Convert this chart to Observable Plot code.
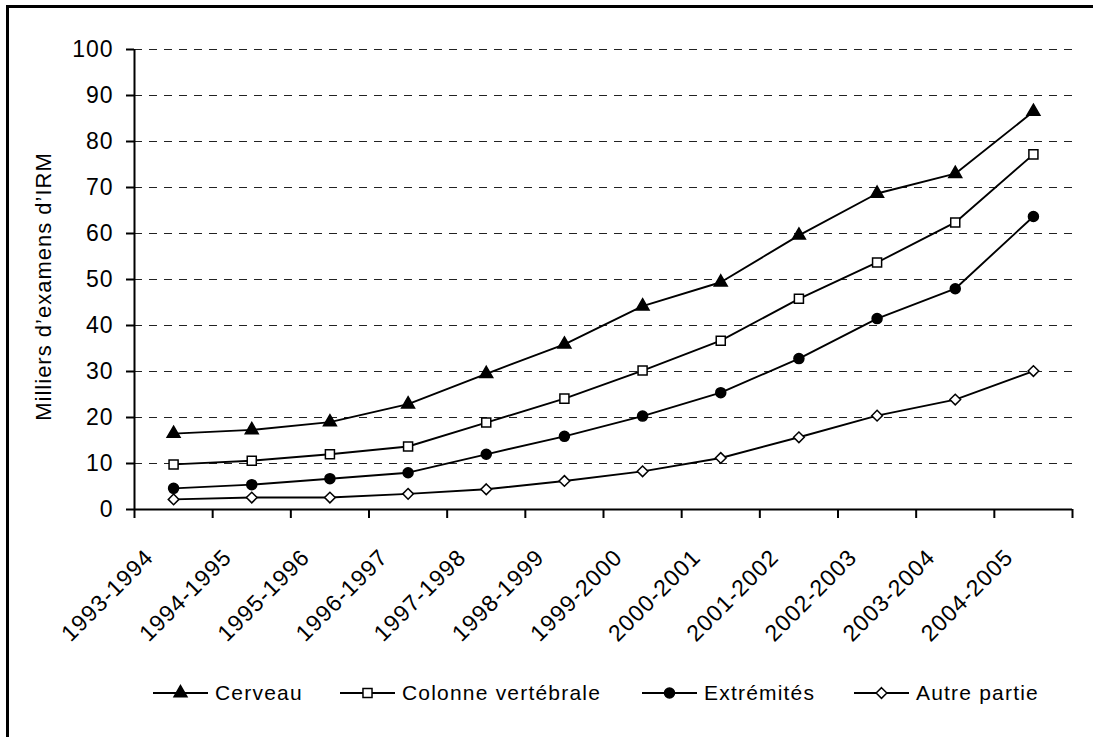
<!DOCTYPE html>
<html>
<head>
<meta charset="utf-8">
<script src="https://cdn.jsdelivr.net/npm/d3@7"></script>
<script src="https://cdn.jsdelivr.net/npm/@observablehq/plot@0.6"></script>
<style>
  html, body { margin: 0; padding: 0; background: #fff; }
  #wrap { position: relative; width: 1093px; height: 737px; overflow: hidden;
          font-family: "Liberation Sans", Arial, sans-serif; }
  #chart { position: absolute; left: 0; top: 0; }
  #chart svg text { letter-spacing: 1px; }
  #frame { position: absolute; left: 6px; top: 5px; width: 1200px; height: 800px;
           border-left: 3px solid #000; border-top: 3px solid #000; pointer-events: none; }
  .legend-item { position: absolute; top: 680px; height: 26px; display: flex; align-items: center;
                 font-size: 21px; letter-spacing: 1.2px; color: #000; white-space: nowrap; }
  .legend-item svg { display: block; margin-right: 7px; }
</style>
</head>
<body>
<div id="wrap">
  <div id="chart"></div>
  <div id="legend"></div>
  <div id="frame"></div>
</div>
<script>
// Périodes (années fiscales)
const categories = ["1993-1994", "1994-1995", "1995-1996", "1996-1997", "1997-1998", "1998-1999",
                    "1999-2000", "2000-2001", "2001-2002", "2002-2003", "2003-2004", "2004-2005"];

// Milliers d'examens d'IRM par partie du corps
const cerveau    = [16.5, 17.3, 19.0, 22.9, 29.5, 35.9, 44.2, 49.4, 59.6, 68.7, 73.0, 86.5];
const colonne    = [9.8, 10.6, 12.0, 13.7, 18.9, 24.1, 30.2, 36.7, 45.8, 53.7, 62.4, 77.2];
const extremites = [4.6, 5.4, 6.7, 8.0, 12.0, 15.9, 20.3, 25.4, 32.8, 41.5, 48.0, 63.7];
const autre      = [2.2, 2.6, 2.6, 3.4, 4.4, 6.2, 8.3, 11.2, 15.7, 20.4, 23.9, 30.1];

const seriesNames = ["Cerveau", "Colonne vertébrale", "Extrémités", "Autre partie"];
const seriesValues = [cerveau, colonne, extremites, autre];
const yTicks = [0, 10, 20, 30, 40, 50, 60, 70, 80, 90, 100];
const yTitle = "Milliers d’examens d’IRM";

// Marker appearance per series
const markers = {
  "Cerveau":            {symbol: "triangle", fill: "#000", r: 4.8},
  "Colonne vertébrale": {symbol: "square",   fill: "#fff", r: 5.1},
  "Extrémités":         {symbol: "circle",   fill: "#000", r: 5.0},
  "Autre partie":       {symbol: "diamond2", fill: "#fff", r: 4.8}
};

const rows = seriesNames.flatMap((name, s) =>
  seriesValues[s].map((value, i) => ({name, period: categories[i], i, value})));

const W = 1093, H = 660, Y0 = 509;
const pos = d => d.i + 0.5;

const chart = Plot.plot({
  width: W,
  height: H,
  marginLeft: 134,
  marginRight: 21,
  marginTop: 49,
  marginBottom: H - Y0,
  style: {
    fontFamily: "'Liberation Sans', Arial, sans-serif",
    fontSize: "23px",
    background: "transparent",
    color: "#000",
    overflow: "visible"
  },
  x: {domain: [0, categories.length]},
  y: {domain: [0, 100]},
  marks: [
    Plot.gridY(yTicks.filter(t => t > 0), {stroke: "#222", strokeOpacity: 1, strokeWidth: 1, strokeDasharray: "8,7"}),
    Plot.axisY(yTicks, {tickSize: 8, tickPadding: 13, strokeWidth: 2, label: null, fontSize: 23}),
    Plot.axisX(d3.range(0, categories.length + 1), {tickSize: 9, tickFormat: () => "", strokeWidth: 2, label: null}),
    Plot.ruleX([0], {strokeWidth: 2}),
    Plot.ruleY([0], {strokeWidth: 2}),
    Plot.text(categories, {
      x: (d, i) => i + 0.5, frameAnchor: "bottom", text: d => d, fontSize: 23,
      rotate: -45, textAnchor: "end", lineAnchor: "middle", dx: -24, dy: 44
    }),
    Plot.text([yTitle], {
      frameAnchor: "left", text: d => d, rotate: -90, textAnchor: "middle", lineAnchor: "middle",
      dx: -91, dy: 7, fontSize: 22
    }),
    Plot.line(rows, {x: pos, y: "value", z: "name", stroke: "#000", strokeWidth: 1.9}),
    ...seriesNames.map(name => Plot.dot(rows.filter(d => d.name === name), {
      x: pos, y: "value",
      symbol: markers[name].symbol, r: markers[name].r,
      fill: markers[name].fill, stroke: "#000", strokeWidth: 1.5
    }))
  ]
});
document.getElementById("chart").append(chart);

// Legend row below the chart
const legendLeft = [153, 340, 642, 854];
const legend = document.getElementById("legend");
const symbolTypes = {triangle: d3.symbolTriangle, square: d3.symbolSquare, circle: d3.symbolCircle, diamond2: d3.symbolDiamond2};
seriesNames.forEach((name, k) => {
  const m = markers[name];
  const item = document.createElement("div");
  item.className = "legend-item";
  item.style.left = legendLeft[k] + "px";
  const svg = d3.create("svg").attr("width", 55).attr("height", 20);
  svg.append("line").attr("x1", 0).attr("x2", 55).attr("y1", 10).attr("y2", 10)
     .attr("stroke", "#000").attr("stroke-width", 1.9);
  svg.append("path")
     .attr("transform", "translate(27.5,10)")
     .attr("d", d3.symbol(symbolTypes[m.symbol], Math.PI * m.r * m.r)())
     .attr("fill", m.fill).attr("stroke", "#000").attr("stroke-width", 1.5);
  item.append(svg.node());
  const span = document.createElement("span");
  span.textContent = name;
  item.append(span);
  legend.append(item);
});
</script>
</body>
</html>
